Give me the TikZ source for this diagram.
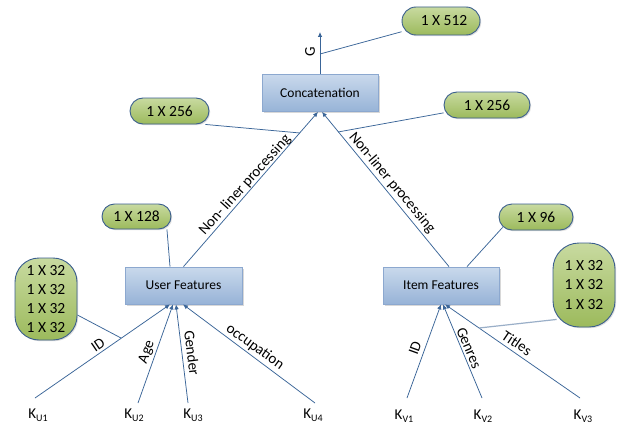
\documentclass[tikz,border=0pt]{standalone}
\usepackage{fontspec}
\setmainfont{Carlito}
\usetikzlibrary{shadows,arrows.meta}
\definecolor{lineblue}{HTML}{3A6598}
\definecolor{boxedge}{HTML}{8CA8CF}
\definecolor{boxtop}{HTML}{C9D9EC}
\definecolor{boxbot}{HTML}{97B3D7}
\definecolor{pilledge}{HTML}{3B5F8E}
\definecolor{pilltop}{HTML}{C8DAA0}
\definecolor{pillbot}{HTML}{9CBA5C}
\definecolor{palelink}{HTML}{9AAFC8}
\newcommand{\ksub}[2]{#1\raisebox{-0.35ex}{\fontsize{10}{10}\selectfont #2}}
\begin{document}
\begin{tikzpicture}[x=1pt,y=-1pt,
  box/.style={draw=boxedge, line width=0.8pt, top color=boxtop, bottom color=boxbot,
    minimum width=116pt, minimum height=37pt, inner sep=0pt,
    font=\fontsize{13.5}{15}\selectfont,
    drop shadow={shadow xshift=1.5pt,shadow yshift=-1.5pt,fill=black!30}},
  pill/.style={draw=pilledge, line width=0.9pt, top color=pilltop, bottom color=pillbot,
    rounded corners=13pt, inner sep=0pt, align=center,
    font=\fontsize{15.5}{19}\selectfont,
    drop shadow={shadow xshift=1.2pt,shadow yshift=-1.2pt,fill=black!25}},
  conn/.style={draw=lineblue, line width=0.75pt},
  arr/.style={conn, -{Latex[length=5pt,width=4.5pt]}},
  lab/.style={font=\fontsize{15}{18}\selectfont, inner sep=0pt},
  klab/.style={font=\fontsize{15}{18}\selectfont, inner sep=0pt}
]
\useasboundingbox[fill=white] (0,0) rectangle (621,428);

% boxes
\node[box] (cc) at (320,93) {Concatenation};
\node[box, minimum width=117pt] (uf) at (183.5,285.5) {User Features};
\node[box] (if) at (441,285.5) {Item Features};

% pills
\node[pill, minimum width=78pt, minimum height=28pt, rounded corners=14pt] (p512) at (441,21) {\hspace*{6pt}1 X 512};
\node[pill, minimum width=79pt, minimum height=26pt] (p256L) at (169.5,111) {1 X 256};
\node[pill, minimum width=86pt, minimum height=26pt] (p256R) at (487,105) {1 X 256};
\node[pill, minimum width=69pt, minimum height=25pt, rounded corners=12.5pt] (p128) at (136.5,216.5) {1 X 128};
\node[pill, minimum width=74pt, minimum height=26pt] (p96) at (536,217) {1 X 96};
\node[pill, minimum width=62pt, minimum height=82pt, rounded corners=24pt] (p32a) at (46,299) {1 X 32\\1 X 32\\1 X 32\\1 X 32};
\node[pill, minimum width=62pt, minimum height=84pt, rounded corners=26pt, font=\fontsize{15.5}{19.5}\selectfont] (p32b) at (584,285) {1 X 32\\1 X 32\\1 X 32};

% K labels
\node[klab] (ku1) at (38,415) {\ksub{K}{U1}};
\node[klab] (ku2) at (134,415) {\ksub{K}{U2}};
\node[klab] (ku3) at (193,415) {\ksub{K}{U3}};
\node[klab] (ku4) at (313,415) {\ksub{K}{U4}};
\node[klab] (kv1) at (404,416) {\ksub{K}{V1}};
\node[klab] (kv2) at (483,416) {\ksub{K}{V2}};
\node[klab] (kv3) at (583,416) {\ksub{K}{V3}};

% arrow free ends
\coordinate (tu1) at (35,398);
\coordinate (tu2) at (138,403);
\coordinate (tu3) at (188,403);
\coordinate (tu4) at (315,403);
\coordinate (tv1) at (407,398);
\coordinate (tv2) at (482,398);
\coordinate (tv3) at (580,398);
\coordinate (gtip) at (320,32);

% junction points on arrows
\coordinate (gj) at (320,54);
\coordinate (jl) at (300,133);
\coordinate (jr) at (338,132);
\coordinate (jid) at (121,338);
\coordinate (jti) at (479,328);

% main arrows
\draw[arr] (cc.north) -- (gtip);
\draw[arr] (uf.north) -- ([xshift=-2pt]cc.south);
\draw[arr] ([xshift=8pt]if.north) -- ([xshift=2pt]cc.south);

\draw[arr] (tu1) -- ([xshift=-13.5pt]uf.south);
\draw[arr] (tu2) -- ([xshift=-10.5pt]uf.south);
\draw[arr] (tu3) -- ([xshift=-7.5pt]uf.south);
\draw[arr] (tu4) -- ([xshift=-0.5pt]uf.south);

\draw[arr] (tv1) -- (if.south);
\draw[arr] (tv2) -- ([xshift=2pt]if.south);
\draw[arr] (tv3) -- ([xshift=4pt]if.south);

% pill connectors
\draw[conn] (p512) -- (gj);
\draw[conn] ([xshift=-4pt]p256L.south east) -- (jl);
\draw[conn] (p256R) -- (jr);
\draw[conn] ([xshift=-4.5pt]p128.south east) -- ([xshift=-13.5pt]uf.north);
\draw[conn] ([xshift=4pt,yshift=3pt]p96.south west) -- ([xshift=26pt]if.north);
\draw[conn] ([yshift=-16pt]p32a.east) -- (jid);
\draw[draw=palelink, line width=1.2pt] ([xshift=4pt,yshift=8pt]p32b.south west) -- (jti);

% edge labels
\node[lab, rotate=90] (lg) at (310,52) {G};
\node[lab, rotate=48] (lnl) at (245,185) {Non- liner processing};
\node[lab, rotate=-50] (lnr) at (392,183) {Non-liner processing};
\node[lab, rotate=34] (lid) at (98,345) {ID};
\node[lab, rotate=70] (lage) at (147,352) {Age};
\node[lab, rotate=-83] (lgen) at (192,353) {Gender};
\node[lab, rotate=-36] (locc) at (255,347) {occupation};
\node[lab, rotate=70] (lvid) at (415,348) {ID};
\node[lab, rotate=-67] (lgenres) at (469,348) {Genres};
\node[lab, rotate=-34] (ltit) at (517,343) {Titles};
\end{tikzpicture}
\end{document}
